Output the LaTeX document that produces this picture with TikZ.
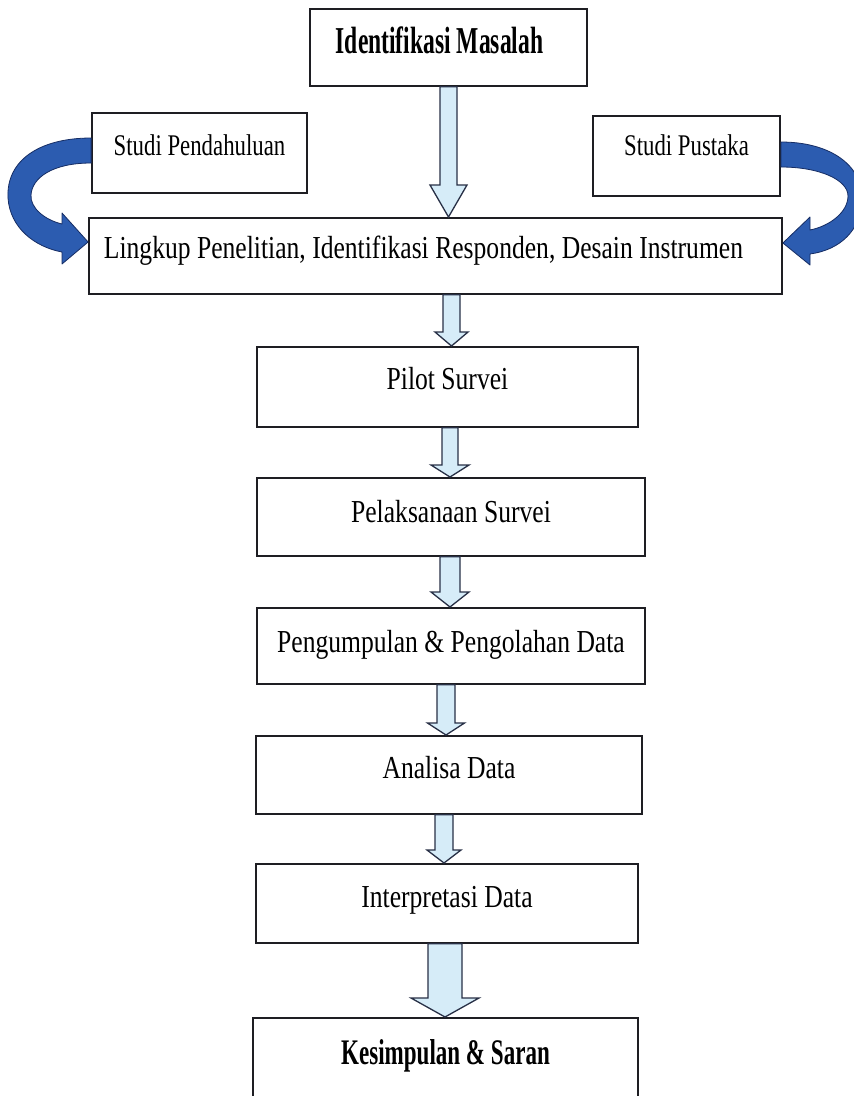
\documentclass[tikz,border=0pt]{standalone}
\usepackage{fontspec}
\setmainfont{Liberation Serif}
\newfontfamily\regcond[FakeStretch=0.8]{Liberation Serif}
\newfontfamily\smallcond[FakeStretch=0.76]{Liberation Serif}
\newfontfamily\idcond[FakeStretch=0.62]{Liberation Serif}
\newfontfamily\kescond[FakeStretch=0.64]{Liberation Serif}
\usetikzlibrary{calc}
\definecolor{boxline}{RGB}{30,30,35}
\definecolor{blkfill}{RGB}{214,236,248}
\definecolor{blkline}{RGB}{40,48,70}
\definecolor{curvfill}{RGB}{44,92,176}
\definecolor{curvline}{RGB}{22,45,100}
\tikzset{
  pbox/.style={draw=boxline, line width=1.8pt, fill=white, rectangle, inner xsep=0pt, inner ysep=0pt, anchor=north},
  mainfont/.style={font=\regcond\fontsize{32}{36}\selectfont},
  smallfont/.style={font=\smallcond\fontsize{30}{34}\selectfont},
  idfont/.style={font=\idcond\bfseries\fontsize{38}{42}\selectfont},
  kesfont/.style={font=\kescond\bfseries\fontsize{36}{40}\selectfont},
  blk/.style={draw=blkline, fill=blkfill, line width=1.3pt, line join=miter},
  curv/.style={draw=curvline, fill=curvfill, line width=0.8pt, line join=round}
}
\newcommand\blkarrow[6]{%
  \draw[blk] let \p1=(#1.south), \p2=(#2.north) in
    ({(#3-#4/2)*1pt},\y1) -- ({(#3+#4/2)*1pt},\y1) -- ({(#3+#4/2)*1pt},{\y2+#6*1pt})
    -- ({(#3+#5/2)*1pt},{\y2+#6*1pt}) -- ({#3*1pt},\y2) -- ({(#3-#5/2)*1pt},{\y2+#6*1pt})
    -- ({(#3-#4/2)*1pt},{\y2+#6*1pt}) -- cycle;}
\begin{document}
\begin{tikzpicture}[x=1pt,y=-1pt]
\useasboundingbox (0,0) rectangle (854,1096);
\clip (0,0) rectangle (854,1096);
\fill[white] (0,0) rectangle (854,1096);

% boxes: text height = baseline - top, text depth = bottom - baseline
\node[pbox, idfont, minimum width=277pt, text height=45pt, text depth=32pt] (id) at (448.5,8) {Identifikasi Masalah\hspace*{18pt}};
\node[pbox, smallfont, minimum width=215pt, text height=43pt, text depth=37pt] (sp) at (199.5,112) {Studi Pendahuluan};
\node[pbox, smallfont, minimum width=187pt, text height=40pt, text depth=40pt] (spu) at (686.5,115) {Studi Pustaka};
\node[pbox, mainfont, minimum width=693pt, text height=41pt, text depth=35pt] (lk) at (435.5,217) {Lingkup Penelitian, Identifikasi Responden, Desain Instrumen\hspace*{24pt}};
\node[pbox, mainfont, minimum width=381pt, text height=43pt, text depth=37pt] (pilot) at (447.5,346) {Pilot Survei};
\node[pbox, mainfont, minimum width=388pt, text height=45pt, text depth=33pt] (pel) at (451,477) {Pelaksanaan Survei};
\node[pbox, mainfont, minimum width=388pt, text height=45pt, text depth=31pt] (peng) at (451,607) {Pengumpulan \& Pengolahan Data};
\node[pbox, mainfont, minimum width=386pt, text height=43pt, text depth=35pt] (an) at (449,735) {Analisa Data};
\node[pbox, mainfont, minimum width=382pt, text height=44pt, text depth=35pt] (int) at (447,863) {Interpretasi Data};
\node[pbox, kesfont, minimum width=385pt, text height=47pt, text depth=46pt] (kes) at (445.5,1017) {Kesimpulan \& Saran};

% block arrows: from, to, centre x, shaft width, head width, head length
\blkarrow{id}{lk}{448.5}{17}{37}{32}
\blkarrow{lk}{pilot}{451.5}{17}{33}{14}
\blkarrow{pilot}{pel}{450}{16}{38}{12}
\blkarrow{pel}{peng}{450}{20}{38}{15}
\blkarrow{peng}{an}{446}{18}{37}{12}
\blkarrow{an}{int}{444}{18}{34}{13}
\blkarrow{int}{kes}{445}{34}{68}{19}

% curved arrows
\draw[curv] (sp.west |- 0,138) .. controls (40,138) and (6,160) .. (8,198)
  .. controls (10,228) and (35,247) .. (62,252) -- (62,264) -- (lk.west |- 0,242) -- (62,213) -- (62,224)
  .. controls (45,220) and (30,208) .. (31,195) .. controls (32,178) and (52,163) .. (sp.west |- 0,163) -- cycle;
\draw[curv] (spu.east |- 0,142) .. controls (830,142) and (862,165) .. (862,198)
  .. controls (862,230) and (840,250) .. (810,254) -- (810,265) -- (lk.east |- 0,243) -- (810,217) -- (810,230)
  .. controls (830,226) and (848,212) .. (848,196) .. controls (848,180) and (820,167) .. (spu.east |- 0,167) -- cycle;
\end{tikzpicture}
\end{document}
